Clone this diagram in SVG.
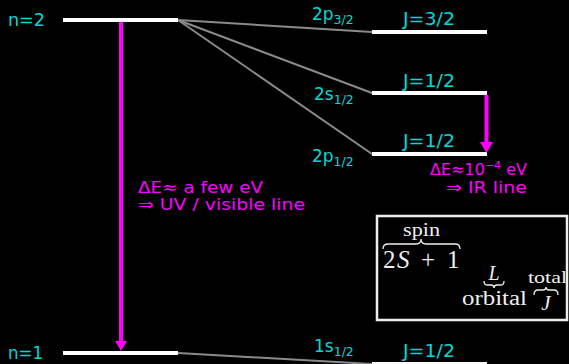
<svg xmlns="http://www.w3.org/2000/svg" width="569" height="364" viewBox="0 0 569 364">
<style>
.lvl{stroke:#ffffff;stroke-width:4;fill:none}
.conn{stroke:#8a8a8a;stroke-width:2;fill:none}
.lab{font-family:"DejaVu Sans",sans-serif;font-size:17px;fill:#00d8d8}
.mag{font-family:"DejaVu Sans",sans-serif;font-size:16px;fill:#ff00ff}
.arr{stroke:#ff00ff;stroke-width:4;fill:none}
.head{fill:#ff00ff}
.tex{font-family:"Liberation Serif","DejaVu Serif",serif;fill:#eeeeee}
.brace{stroke:#eeeeee;stroke-width:1.3;fill:none}
</style>
<rect width="569" height="364" fill="#000000"/>
<g id="connectors">
<line class="conn" x1="178" y1="20" x2="372" y2="32"/>
<line class="conn" x1="178" y1="20" x2="372" y2="93"/>
<line class="conn" x1="178" y1="20" x2="372" y2="154"/>
<line class="conn" x1="178" y1="353" x2="372" y2="364"/>
</g>
<g id="n2">
<line class="lvl" x1="63" y1="20" x2="178" y2="20"/>
<text class="lab" x="8" y="26" textLength="37" lengthAdjust="spacingAndGlyphs">n=2</text>
</g>
<g id="n1">
<line class="lvl" x1="63" y1="353" x2="178" y2="353"/>
<text class="lab" x="8" y="359" textLength="35" lengthAdjust="spacingAndGlyphs">n=1</text>
</g>
<g id="p32">
<line class="lvl" x1="372" y1="32" x2="487" y2="32"/>
<text class="lab" x="312" y="20">2p<tspan font-size="12.5" dy="4">3/2</tspan></text>
<text class="lab" x="403" y="25" textLength="52" lengthAdjust="spacingAndGlyphs">J=3/2</text>
</g>
<g id="s12">
<line class="lvl" x1="372" y1="93" x2="487" y2="93"/>
<text class="lab" x="314" y="100">2s<tspan font-size="12.5" dy="4">1/2</tspan></text>
<text class="lab" x="403" y="87" textLength="52" lengthAdjust="spacingAndGlyphs">J=1/2</text>
</g>
<g id="p12">
<line class="lvl" x1="372" y1="154" x2="487" y2="154"/>
<text class="lab" x="312" y="162">2p<tspan font-size="12.5" dy="4">1/2</tspan></text>
<text class="lab" x="403" y="147" textLength="52" lengthAdjust="spacingAndGlyphs">J=1/2</text>
</g>
<g id="s1">
<line class="lvl" x1="372" y1="364" x2="487" y2="364"/>
<text class="lab" x="314" y="352">1s<tspan font-size="12.5" dy="4">1/2</tspan></text>
<text class="lab" x="403" y="357" textLength="52" lengthAdjust="spacingAndGlyphs">J=1/2</text>
</g>
<g id="uv">
<line class="arr" x1="121" y1="22" x2="121" y2="342"/>
<polygon class="head" points="115,341 127,341 121,351"/>
<text class="mag" x="138" y="193" textLength="125" lengthAdjust="spacingAndGlyphs">ΔE≈ a few eV</text>
<text class="mag" x="138" y="210" textLength="167" lengthAdjust="spacingAndGlyphs">⇒ UV / visible line</text>
</g>
<g id="ir">
<line class="arr" x1="486.5" y1="95" x2="486.5" y2="144"/>
<polygon class="head" points="480,142 493,142 486.5,153"/>
<text class="mag" x="527" y="175" text-anchor="end">ΔE≈10<tspan font-size="11" dy="-6">−4</tspan><tspan dy="6"> eV</tspan></text>
<text class="mag" x="446" y="193" textLength="81" lengthAdjust="spacingAndGlyphs">⇒ IR line</text>
</g>
<g id="box">
<rect x="377" y="216" width="190" height="104" fill="none" stroke="#eeeeee" stroke-width="2.5"/>
<text class="tex" x="403" y="236" font-size="18" textLength="37" lengthAdjust="spacingAndGlyphs">spin</text>
<path class="brace" d="M383,249 Q383,244 388,244 L416,244 Q421,244 421,239 Q421,244 426,244 L455,244 Q460,244 460,249"/>
<text class="tex" font-size="25" y="268"><tspan x="383">2</tspan><tspan x="397" font-style="italic">S</tspan><tspan x="421">+</tspan><tspan x="447">1</tspan></text>
<text class="tex" x="494" y="280" font-size="20" font-style="italic" text-anchor="middle">L</text>
<path class="brace" d="M484,281 Q484,285 487,285 L491,285 Q494,285 494,288 Q494,285 497,285 L501,285 Q504,285 504,281"/>
<text class="tex" x="462" y="305" font-size="20" textLength="65" lengthAdjust="spacingAndGlyphs">orbital</text>
<text class="tex" x="528" y="283" font-size="17" textLength="39" lengthAdjust="spacingAndGlyphs">total</text>
<path class="brace" d="M534,295 Q534,290 538,290 L543,290 Q546,290 546,287 Q546,290 549,290 L554,290 Q558,290 558,295"/>
<text class="tex" x="546" y="310" font-size="21" font-style="italic" text-anchor="middle">J</text>
</g>
</svg>
